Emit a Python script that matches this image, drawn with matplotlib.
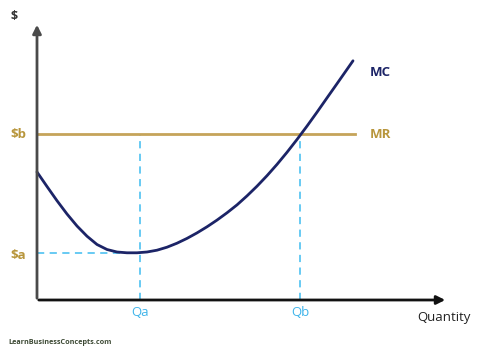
import matplotlib
matplotlib.use("Agg")
import matplotlib.pyplot as plt

# price levels and quantities
price_a = 4.7
price_b = 16.6
q_a = 10.3
q_b = 26.3
x_end = 41.1
y_end = 27.8

# marginal cost curve (quantity, cost)
mc_q = [0, 1, 2, 3, 4, 5, 6, 7, 8, 9, 10, 11, 12, 13, 14, 15, 16,
        17, 18, 19, 20, 21, 22, 23, 24, 25, 26, 27, 28, 29, 30, 31, 31.6]
mc_c = [12.8, 11.35, 9.93, 8.60, 7.40, 6.38, 5.55, 5.05, 4.80, 4.72, 4.72, 4.80, 4.98,
        5.28, 5.68, 6.16, 6.71, 7.32, 7.99, 8.72, 9.51, 10.41, 11.38, 12.43, 13.56,
        14.77, 16.05, 17.39, 18.78, 20.21, 21.63, 23.06, 23.92]

navy = "#1c2467"
gold = "#c5a45a"
cyan = "#5cc6f2"

fig = plt.figure(figsize=(4.78, 3.49), dpi=100)
ax = fig.add_axes([0, 0, 1, 1])
ax.set_xlim(-3.7, 44.1)
ax.set_ylim(-4.9, 30.0)
ax.axis("off")

# dashed guides
ax.plot([0, q_a], [price_a, price_a], color=cyan, lw=1.3, ls=(0, (4, 3)))
ax.plot([q_a, q_a], [0, price_b], color=cyan, lw=1.3, ls=(0, (4, 3)))
ax.plot([q_b, q_b], [0, price_b], color=cyan, lw=1.3, ls=(0, (4, 3)))

# MR and MC
ax.plot([0, 31.8], [price_b, price_b], color=gold, lw=2)
ax.plot(mc_q, mc_c, color=navy, lw=2, solid_capstyle="round", solid_joinstyle="round")

# axes with arrows
ax.annotate("", xy=(0, y_end), xytext=(0, -0.1),
            arrowprops=dict(arrowstyle="-|>,head_length=0.5,head_width=0.25", color="#4a4a4a", lw=2))
ax.annotate("", xy=(x_end, 0), xytext=(-0.1, 0),
            arrowprops=dict(arrowstyle="-|>,head_length=0.5,head_width=0.25", color="#111111", lw=2))

font = "Open Sans"
ax.text(-2.3, 28.3, "$", fontsize=9, fontweight="bold", color="#333333", family=font, ha="center", va="center")
ax.text(-1.9, price_b, "$b", fontsize=9.5, fontweight="bold", color="#b8963c", family=font, ha="center", va="center")
ax.text(-1.9, price_a - 0.25, "$a", fontsize=9.5, fontweight="bold", color="#b8963c", family=font, ha="center", va="center")
ax.text(33.3, price_b, "MR", fontsize=9.5, fontweight="bold", color="#b8963c", family=font, ha="left", va="center")
ax.text(33.3, 22.7, "MC", fontsize=9.5, fontweight="bold", color=navy, family=font, ha="left", va="center")
ax.text(q_a, -1.3, "Qa", fontsize=9.5, color="#3fb4ea", family=font, ha="center", va="center")
ax.text(q_b, -1.3, "Qb", fontsize=9.5, color="#3fb4ea", family=font, ha="center", va="center")
ax.text(40.7, -1.8, "Quantity", fontsize=9.5, color="#222222", family=font, ha="center", va="center")
ax.text(-2.9, -4.2, "LearnBusinessConcepts.com", fontsize=5.2, fontweight="bold", color="#3d4a35", family=font, ha="left", va="center")

fig.savefig("out.png", dpi=100)
